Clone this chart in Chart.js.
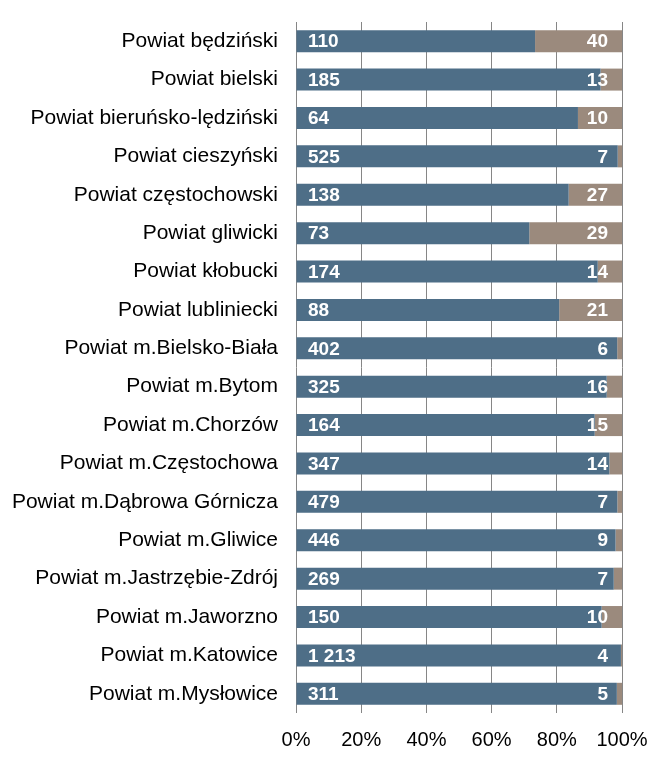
<!DOCTYPE html>
<html><head><meta charset="utf-8">
<script src="https://cdn.jsdelivr.net/npm/chart.js@4/dist/chart.umd.min.js"></script>
<style>html,body{margin:0;padding:0;background:#fff}#wrap{width:672px;height:764px}</style>
</head><body><div id="wrap"><canvas id="c" width="672" height="764"></canvas></div>
<script>
const categories = ["Powiat będziński","Powiat bielski","Powiat bieruńsko-lędziński","Powiat cieszyński","Powiat częstochowski","Powiat gliwicki","Powiat kłobucki","Powiat lubliniecki","Powiat m.Bielsko-Biała","Powiat m.Bytom","Powiat m.Chorzów","Powiat m.Częstochowa","Powiat m.Dąbrowa Górnicza","Powiat m.Gliwice","Powiat m.Jastrzębie-Zdrój","Powiat m.Jaworzno","Powiat m.Katowice","Powiat m.Mysłowice"];
const seriesA = [110,185,64,525,138,73,174,88,402,325,164,347,479,446,269,150,1213,311];
const seriesB = [40,13,10,7,27,29,14,21,6,16,15,14,7,9,7,10,4,5];
const xTicks = [0,20,40,60,80,100];

const totals = seriesA.map((v,i)=>v+seriesB[i]);
const pctA = seriesA.map((v,i)=>v/totals[i]*100);
const pctB = seriesB.map((v,i)=>v/totals[i]*100);
const fmt = n => String(n).replace(/\B(?=(\d{3})+(?!\d))/g,' ');

const labelPlugin = {
  id:'lbl',
  afterDatasetsDraw(chart){
    const ctx = chart.ctx;
    const xs = chart.scales.x, ys = chart.scales.y;
    ctx.save();
    ctx.fillStyle = '#fff';
    ctx.font = 'bold 19px "Liberation Sans", Arial, sans-serif';
    ctx.textBaseline = 'middle';
    categories.forEach((c,i)=>{
      const y = ys.getPixelForValue(i)+1;
      ctx.textAlign = 'left';
      ctx.fillText(fmt(seriesA[i]), xs.getPixelForValue(0)+12, y);
      ctx.textAlign = 'right';
      ctx.fillText(fmt(seriesB[i]), xs.getPixelForValue(100)-14, y);
    });
    ctx.restore();
  }
};

new Chart(document.getElementById('c'), {
  type:'bar',
  data:{labels:categories, datasets:[
    {data:pctA, backgroundColor:'#4E6E87', barPercentage:0.573, categoryPercentage:1},
    {data:pctB, backgroundColor:'#9B8A7D', barPercentage:0.573, categoryPercentage:1}
  ]},
  options:{
    indexAxis:'y', responsive:false, animation:false,
    layout:{padding:{left:0,right:50,top:22,bottom:0}},
    plugins:{legend:{display:false}, tooltip:{enabled:false}},
    scales:{
      x:{stacked:true, min:0, max:100,
        afterBuildTicks(s){ s.ticks = xTicks.map(v=>({value:v})); },
        grid:{color:'#868686', lineWidth:1, drawTicks:false},
        border:{display:false},
        ticks:{callback:v=>v+'%', color:'#000', font:{family:'"Liberation Sans", Arial, sans-serif', size:20}, padding:15, maxRotation:0},
        afterFit(s){ s.height = 51; s.paddingLeft = 0; s.paddingRight = 0; }
      },
      y:{stacked:true,
        grid:{display:false, drawTicks:false}, border:{display:false},
        ticks:{color:'#000', font:{family:'"Liberation Sans", Arial, sans-serif', size:21}, padding:18, autoSkip:false},
        afterFit(s){ s.width = 296; s.paddingTop = 0; s.paddingBottom = 0; }
      }
    }
  },
  plugins:[labelPlugin]
});
</script></body></html>
